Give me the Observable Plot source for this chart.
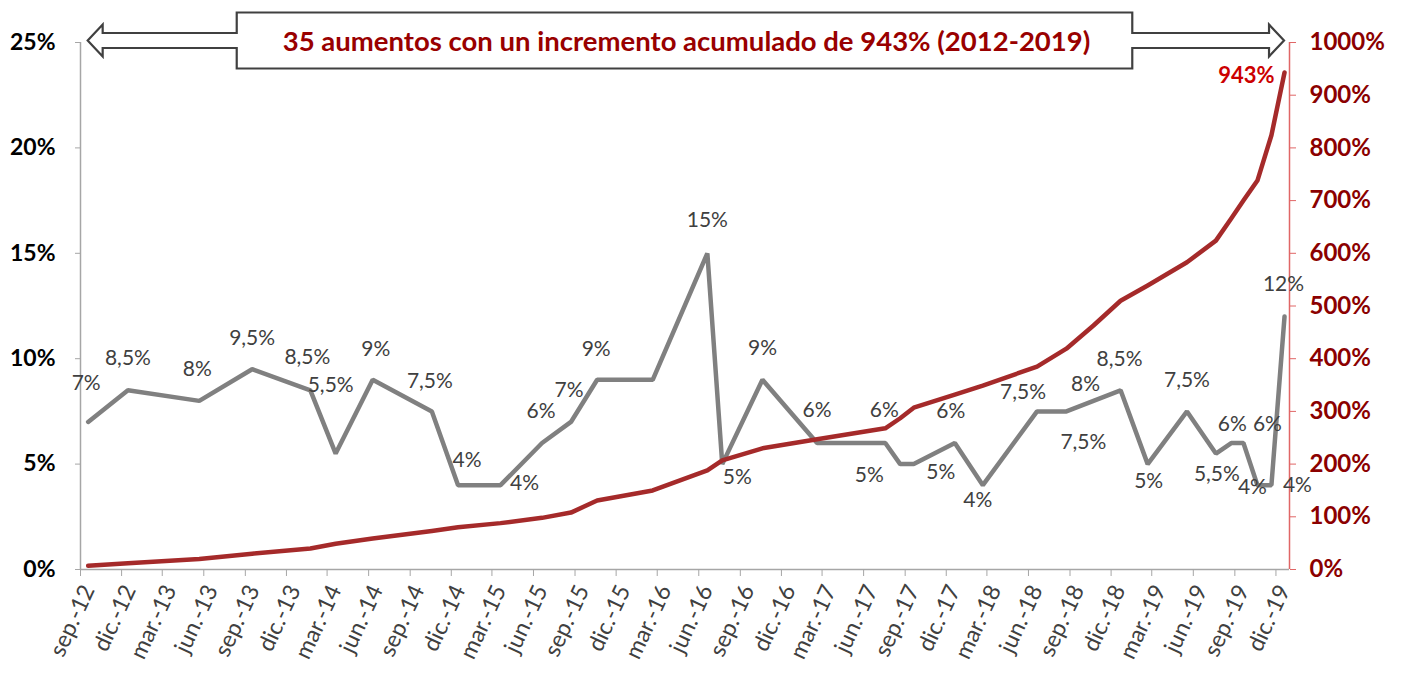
<!DOCTYPE html>
<html>
<head>
<meta charset="utf-8">
<script src="https://cdn.jsdelivr.net/npm/d3@7"></script>
<script src="https://cdn.jsdelivr.net/npm/@observablehq/plot@0.6"></script>
<style>
  html, body { margin: 0; padding: 0; background: #fff; }
  #chart { width: 1404px; height: 674px; }
</style>
</head>
<body>
<div id="chart"></div>
<script>
// ---- Data ----
const increaseDates = ["2012-09-18","2012-12-15","2013-05-22","2013-09-16","2014-01-23","2014-03-20","2014-06-10","2014-10-19","2014-12-16","2015-03-20","2015-06-20","2015-08-23","2015-10-20","2016-02-20","2016-06-20","2016-07-23","2016-10-20","2017-02-18","2017-07-19","2017-08-21","2017-09-20","2017-12-20","2018-02-20","2018-06-20","2018-08-24","2018-10-23","2018-12-22","2019-02-20","2019-05-18","2019-07-21","2019-08-24","2019-09-20","2019-10-21","2019-11-21","2019-12-20"];
const increases = [7,8.5,8,9.5,8.5,5.5,9,7.5,4,4,6,7,9,9,15,5,9,6,6,5,5,6,4,7.5,7.5,8,8.5,5,7.5,5.5,6,6,4,4,12];
const cumulative = [7,12,20,30,40,49,59,73,80,88,98,108,131,150,188,207,230,247,268,287,307,332,349,385,419,463,510,539,583,624,666,700,738,824,943];
const increaseLabels = ["7%","8,5%","8%","9,5%","8,5%","5,5%","9%","7,5%","4%","4%","6%","7%","9%","","15%","5%","9%","6%","6%","5%","5%","6%","4%","7,5%","7,5%","8%","8,5%","5%","7,5%","5,5%","6%","6%","4%","4%","12%"];
const finalLabel = "943%";
const titleText = "35 aumentos con un incremento acumulado de 943% (2012-2019)";
const xTickLabels = ["sep.-12","dic.-12","mar.-13","jun.-13","sep.-13","dic.-13","mar.-14","jun.-14","sep.-14","dic.-14","mar.-15","jun.-15","sep.-15","dic.-15","mar.-16","jun.-16","sep.-16","dic.-16","mar.-17","jun.-17","sep.-17","dic.-17","mar.-18","jun.-18","sep.-18","dic.-18","mar.-19","jun.-19","sep.-19","dic.-19"];
const leftTicks = [0,5,10,15,20,25];
const rightTicks = [0,100,200,300,400,500,600,700,800,900,1000];

// ---- Styling / layout (not data) ----
const labelOffsets = [[-2,-39],[0,-32],[-2,-32],[0,-31],[-3,-33],[-5,-68],[3,-31],[-2,-30],[9,-25],[24,-2],[-1,-32],[-2,-32],[-1,-31],[0,0],[0,-33],[15,13],[0,-32],[0,-33],[-1,-33],[-31,11],[27,8],[-4,-32],[-5,15],[-14,-19],[17,31],[-8,-17],[-1,-31],[1,17],[0,-31],[1,21],[1,-19],[24,-19],[-5,2],[26,0],[-1,-32]];
const RIGHT_RATIO = 40; // 1000% on right axis == 25% on left axis
const FONT = "Lato, 'Liberation Sans', 'DejaVu Sans', sans-serif";

const data = increaseDates.map((d, i) => ({
  date: new Date(d + "T00:00:00Z"),
  inc: increases[i],
  cum: cumulative[i],
  label: increaseLabels[i]
}));

const tickStart = new Date(Date.UTC(2012, 8, 1));
const xTicks = xTickLabels.map((_, i) => d3.utcMonth.offset(tickStart, 3 * i));
const tickLabelMap = new Map(xTicks.map((d, i) => [+d, xTickLabels[i]]));
const xDomain = [new Date(Date.UTC(2012, 8, 1)), new Date(Date.UTC(2019, 11, 31))];

const labelMarks = data.map((d, i) => d.label ? Plot.text([d], {
  x: "date", y: "inc", text: "label",
  dx: labelOffsets[i][0], dy: labelOffsets[i][1],
  fill: "#404040", fontSize: 21, fontFamily: FONT
}) : null).filter(Boolean);

const last = data[data.length - 1];

const plot = Plot.plot({
  width: 1404,
  height: 674,
  marginLeft: 80,
  marginRight: 115,
  marginTop: 42,
  marginBottom: 105,
  style: { fontFamily: FONT, background: "#fff", overflow: "visible" },
  x: { type: "utc", domain: xDomain },
  y: { domain: [0, 25] },
  marks: [
    Plot.ruleY([0], { stroke: "#a6a6a6", strokeWidth: 1.5 }),
    Plot.ruleX([xDomain[0]], { y1: 0, y2: 25, stroke: "#a6a6a6", strokeWidth: 1.5 }),
    Plot.ruleX([xDomain[1]], { y1: 0, y2: 25, stroke: "#e06666", strokeWidth: 1.5 }),
    Plot.axisY({
      anchor: "left", ticks: leftTicks, tickFormat: d => d + "%",
      tickSize: 5, tickPadding: 20, stroke: "#a6a6a6", fill: "#000",
      fontSize: 23, fontWeight: "bold", label: null
    }),
    Plot.axisY({
      anchor: "right", ticks: rightTicks.map(v => v / RIGHT_RATIO),
      tickFormat: d => Math.round(d * RIGHT_RATIO) + "%",
      tickSize: 6, tickPadding: 14, stroke: "#e06666", fill: "#8b0000",
      fontSize: 24, fontWeight: "bold", label: null
    }),
    // x tick marks
    Plot.axisX({
      ticks: xTicks, tickFormat: () => "", tickSize: 7, stroke: "#a6a6a6", label: null
    }),
    // x tick labels (rotated, nudged like the reference)
    Plot.axisX({
      ticks: xTicks, tickFormat: d => tickLabelMap.get(+d),
      tickSize: 0, tickPadding: 17, tickRotate: -65, dx: 8, strokeOpacity: 0,
      fill: "#404040", fontSize: 23, label: null
    }),
    Plot.line(data, { x: "date", y: "inc", stroke: "#808080", strokeWidth: 4.5, strokeLinejoin: "miter" }),
    Plot.line(data, { x: "date", y: d => d.cum / RIGHT_RATIO, stroke: "#a52a2a", strokeWidth: 4.5 }),
    ...labelMarks,
    Plot.text([last], {
      x: "date", y: d => d.cum / RIGHT_RATIO, text: () => finalLabel,
      textAnchor: "end", dx: -10, dy: 3, fill: "#cc0000",
      fontSize: 22, fontWeight: "bold", fontFamily: FONT
    })
  ]
});

document.getElementById("chart").appendChild(plot);

// ---- Banner with double arrow (positioned with the chart's own scales) ----
const xs = plot.scale("x"), ys = plot.scale("y");
const L = xs.apply(data[0].date);
const R = xs.apply(last.date);
const cy = ys.apply(25) - 1.5;
const svg = d3.select(plot);
const g = svg.append("g");
const path = g.append("path");
const cx = (xs.range[0] + xs.range[1]) / 2;
const t = g.append("text")
  .attr("x", cx + 2)
  .attr("y", cy)
  .attr("text-anchor", "middle")
  .attr("dominant-baseline", "central")
  .attr("font-family", FONT)
  .attr("font-weight", "bold")
  .attr("font-size", 27.5)
  .attr("fill", "#990000")
  .text(titleText);
const tw = t.node().getComputedTextLength();
const bx0 = cx - tw / 2 - 44, bx1 = cx + tw / 2 + 44;
const bh = 28, sh = 7.5, hh = 16, hl = 15;
const pts = [
  [L, cy], [L + hl, cy - hh], [L + hl, cy - sh], [bx0, cy - sh], [bx0, cy - bh], [bx1, cy - bh],
  [bx1, cy - sh], [R - hl, cy - sh], [R - hl, cy - hh], [R, cy], [R - hl, cy + hh], [R - hl, cy + sh],
  [bx1, cy + sh], [bx1, cy + bh], [bx0, cy + bh], [bx0, cy + sh], [L + hl, cy + sh], [L + hl, cy + hh]
];
path.attr("d", "M" + pts.map(p => p.join(",")).join("L") + "Z")
  .attr("fill", "#fff").attr("stroke", "#404040").attr("stroke-width", 2.2)
  .attr("stroke-linejoin", "miter");
</script>
</body>
</html>
